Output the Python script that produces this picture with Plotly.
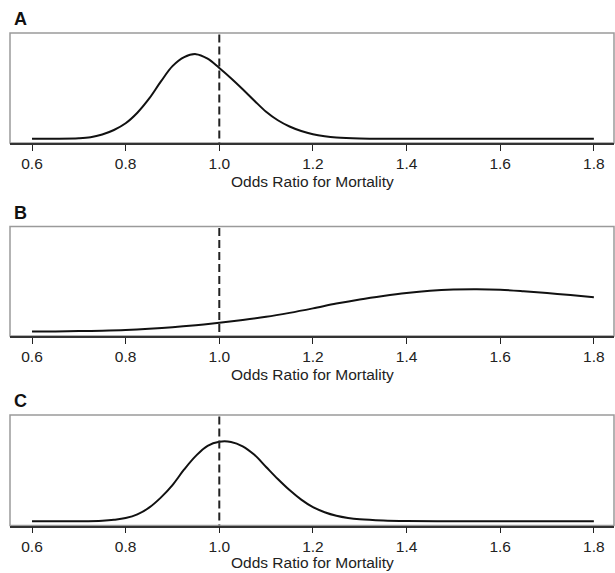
import plotly.graph_objects as go

# ---- data (relative density) ----
x_a = [0.600, 0.650, 0.700, 0.725, 0.750, 0.775, 0.800, 0.825, 0.850, 0.875,
       0.900, 0.925, 0.950, 0.975, 1.000, 1.025, 1.050, 1.075, 1.100, 1.125,
       1.150, 1.175, 1.200, 1.225, 1.250, 1.300, 1.400, 1.500, 1.600, 1.700, 1.800]
dens_a = [0.0, 0.1, 0.6, 1.6, 4.3, 8.8, 15.5, 26.0, 40.0, 57.0,
          72.5, 81.5, 84.5, 80.0, 70.7, 60.5, 49.5, 38.0, 27.0, 18.5,
          12.3, 7.8, 4.5, 2.5, 1.3, 0.4, 0.05, 0.0, 0.0, 0.0, 0.0]

x_b = [0.60, 0.65, 0.70, 0.75, 0.80, 0.85, 0.90, 0.95, 1.00, 1.05, 1.10, 1.15, 1.20,
       1.25, 1.30, 1.35, 1.40, 1.45, 1.50, 1.55, 1.60, 1.65, 1.70, 1.75, 1.80]
dens_b = [0.2, 0.4, 0.7, 1.1, 1.8, 3.0, 4.6, 6.6, 9.0, 11.8, 15.0, 19.0, 23.5,
          28.3, 32.5, 36.0, 39.0, 41.2, 42.4, 42.7, 42.2, 40.7, 38.8, 36.8, 34.7]

x_c = [0.600, 0.700, 0.750, 0.775, 0.800, 0.825, 0.850, 0.875, 0.900, 0.925,
       0.950, 0.975, 1.000, 1.025, 1.050, 1.075, 1.100, 1.125, 1.150, 1.175,
       1.200, 1.225, 1.250, 1.275, 1.300, 1.350, 1.400, 1.500, 1.600, 1.700, 1.800]
dens_c = [0.0, 0.1, 0.6, 1.5, 3.2, 6.8, 13.5, 23.5, 36.0, 51.5,
          65.0, 75.0, 79.0, 78.8, 74.5, 66.0, 54.0, 42.0, 31.0, 21.5,
          14.0, 9.0, 5.5, 3.3, 2.0, 0.8, 0.3, 0.05, 0.0, 0.0, 0.0]

null_or = 1.0
tick_vals = [0.6, 0.8, 1.0, 1.2, 1.4, 1.6, 1.8]
tick_text = ["0.6", "0.8", "1.0", "1.2", "1.4", "1.6", "1.8"]
panel_labels = ["A", "B", "C"]
x_title = "Odds Ratio for Mortality"

W, H = 615, 573
FONT = "Liberation Sans, Arial, sans-serif"
x_range = [0.553, 1.843]
y_range = [-4.2, 105.6]

# panel boxes in pixels (top, bottom) and title offsets below the axis
boxes = [(33, 143), (226.5, 336), (415, 525.5)]
title_gap = [38, 38, 37]
x_dom = [10 / W, 614 / W]

series = [(x_a, dens_a), (x_b, dens_b), (x_c, dens_c)]

fig = go.Figure()
layout = dict(
    width=W, height=H,
    margin=dict(l=0, r=0, t=0, b=0),
    paper_bgcolor="white", plot_bgcolor="white",
    showlegend=False,
    font=dict(family=FONT, size=15.5, color="#222"),
    shapes=[], annotations=[],
)

for i, ((xs, ys), (top, bot)) in enumerate(zip(series, boxes)):
    n = "" if i == 0 else str(i + 1)
    xa, ya = "x" + n, "y" + n
    fig.add_trace(go.Scatter(
        x=xs, y=ys, mode="lines", xaxis=xa, yaxis=ya,
        line=dict(color="#111", width=2, shape="spline", smoothing=1.0),
        hoverinfo="skip"))
    fig.add_trace(go.Scatter(
        x=[null_or, null_or], y=[y_range[1] - 1.5, y_range[0]], mode="lines",
        xaxis=xa, yaxis=ya,
        line=dict(color="#222", width=2, dash="8px,4px"), hoverinfo="skip"))
    layout["xaxis" + n] = dict(
        domain=x_dom, range=x_range, anchor=ya,
        tickmode="array", tickvals=tick_vals, ticktext=tick_text,
        ticks="outside", ticklen=6, tickwidth=1, tickcolor="#222",
        showline=True, linecolor="#333", linewidth=1.5,
        showgrid=False, zeroline=False, fixedrange=True,
        tickfont=dict(family=FONT, size=15.5, color="#222"),
        ticklabelstandoff=0,
    )
    layout["yaxis" + n] = dict(
        domain=[1 - bot / H, 1 - top / H], range=y_range, anchor=xa,
        visible=False, showgrid=False, zeroline=False, fixedrange=True,
    )
    layout["shapes"].append(dict(
        type="rect", xref=xa + " domain", yref=ya + " domain",
        x0=0, x1=1, y0=0, y1=1, layer="below",
        line=dict(color="#9a9a9a", width=1.5), fillcolor="rgba(0,0,0,0)"))
    layout["annotations"].append(dict(
        text="<b>" + panel_labels[i] + "</b>", xref="paper", yref="paper",
        x=12 / W, y=1 - (top - 14) / H, xanchor="left", yanchor="middle",
        showarrow=False, font=dict(family=FONT, size=18, color="#111")))
    layout["annotations"].append(dict(
        text=x_title, xref="paper", yref="paper",
        x=(10 + 614) / 2 / W, y=1 - (bot + title_gap[i]) / H,
        xanchor="center", yanchor="middle", showarrow=False,
        font=dict(family=FONT, size=15.5, color="#222")))

fig.update_layout(**layout)
fig.write_html("out.html",
               config={"displayModeBar": False},
               post_script="document.body.style.margin='0';"
                           "document.body.style.padding='0';")
